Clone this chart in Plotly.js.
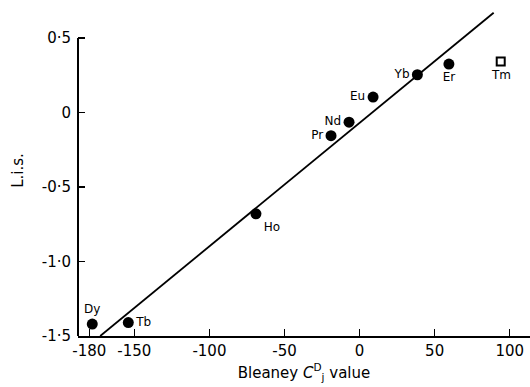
<!DOCTYPE html>
<html><head><meta charset="utf-8">
<script src="https://cdn.plot.ly/plotly-3.0.1.min.js"></script>
<style>html,body{margin:0;padding:0;background:#fff}#plot{width:530px;height:387px}</style>
</head><body><div id="plot"></div>
<script>
// Data
const elements = ["Dy","Tb","Ho","Pr","Nd","Eu","Yb","Er"];
const bleaneyC = [-178, -154, -69, -19, -7, 9, 38.5, 59.5];
const lis      = [-1.42, -1.41, -0.68, -0.156, -0.065, 0.103, 0.253, 0.325];
const openElement = ["Tm"];
const openC = [94];
const openLis = [0.342];
const fitX = [-172.7, 89.3];
const fitY = [-1.5, 0.669];
const xTickVals = [-180, -150, -100, -50, 0, 50, 100];
const xTickText = ["-180","-150","-100","-50","0","50","100"];
const yTickVals = [0.5, 0, -0.5, -1.0, -1.5];
const yTickText = ["0·5","0","-0·5","-1·0","-1·5"];

const font = "DejaVu Sans, Arial, sans-serif";
const labelPos = ["top center","middle right","bottom right","middle left","middle left","middle left","middle left","bottom center"];

const traces = [
  {x: fitX, y: fitY, mode: "lines", line: {color: "#000", width: 1.8}, hoverinfo: "skip"},
  {x: bleaneyC, y: lis, mode: "markers+text", text: elements, textposition: labelPos,
   textfont: {family: font, size: 12, color: "#000"},
   marker: {color: "#000", size: 11}},
  {x: openC, y: openLis, mode: "markers",
   marker: {symbol: "square-open", color: "#000", size: 8, line: {width: 2}}}
];

const annotations = openElement.map((t, i) => ({
  x: openC[i], y: openLis[i], xref: "x", yref: "y", text: t, showarrow: false,
  yanchor: "top", yshift: -5, font: {family: font, size: 12, color: "#000"}
}));

const layout = {
  width: 530, height: 387,
  margin: {l: 78, r: 0, t: 5, b: 51},
  showlegend: false,
  paper_bgcolor: "#fff", plot_bgcolor: "#fff",
  font: {family: font, size: 15, color: "#000"},
  xaxis: {
    range: [-187.5, 113.5], tickvals: xTickVals, ticktext: xTickText,
    ticks: "inside", ticklen: 7, tickwidth: 1.5, tickcolor: "#000",
    showline: true, linecolor: "#000", linewidth: 2, showgrid: false, zeroline: false,
    tickfont: {family: font, size: 15},
    title: {text: "Bleaney <i>C</i><sup>D</sup><sub>j</sub> value", font: {family: font, size: 15}, standoff: 8}
  },
  yaxis: {
    range: [-1.5, 0.721], tickvals: yTickVals, ticktext: yTickText,
    ticks: "inside", ticklen: 7, tickwidth: 1.5, tickcolor: "#000",
    showline: false, showgrid: false, zeroline: false,
    tickfont: {family: font, size: 15}, ticklabelstandoff: 6,
    title: {text: "L.i.s.", font: {family: font, size: 15}, standoff: 14}
  },
  annotations: annotations,
  shapes: [
    {type: "line", xref: "paper", yref: "y", x0: 0, x1: 0, y0: -1.5, y1: 0.5, line: {color: "#000", width: 2}}
  ]
};
Plotly.newPlot("plot", traces, layout, {displayModeBar: false, staticPlot: true});
</script></body></html>
